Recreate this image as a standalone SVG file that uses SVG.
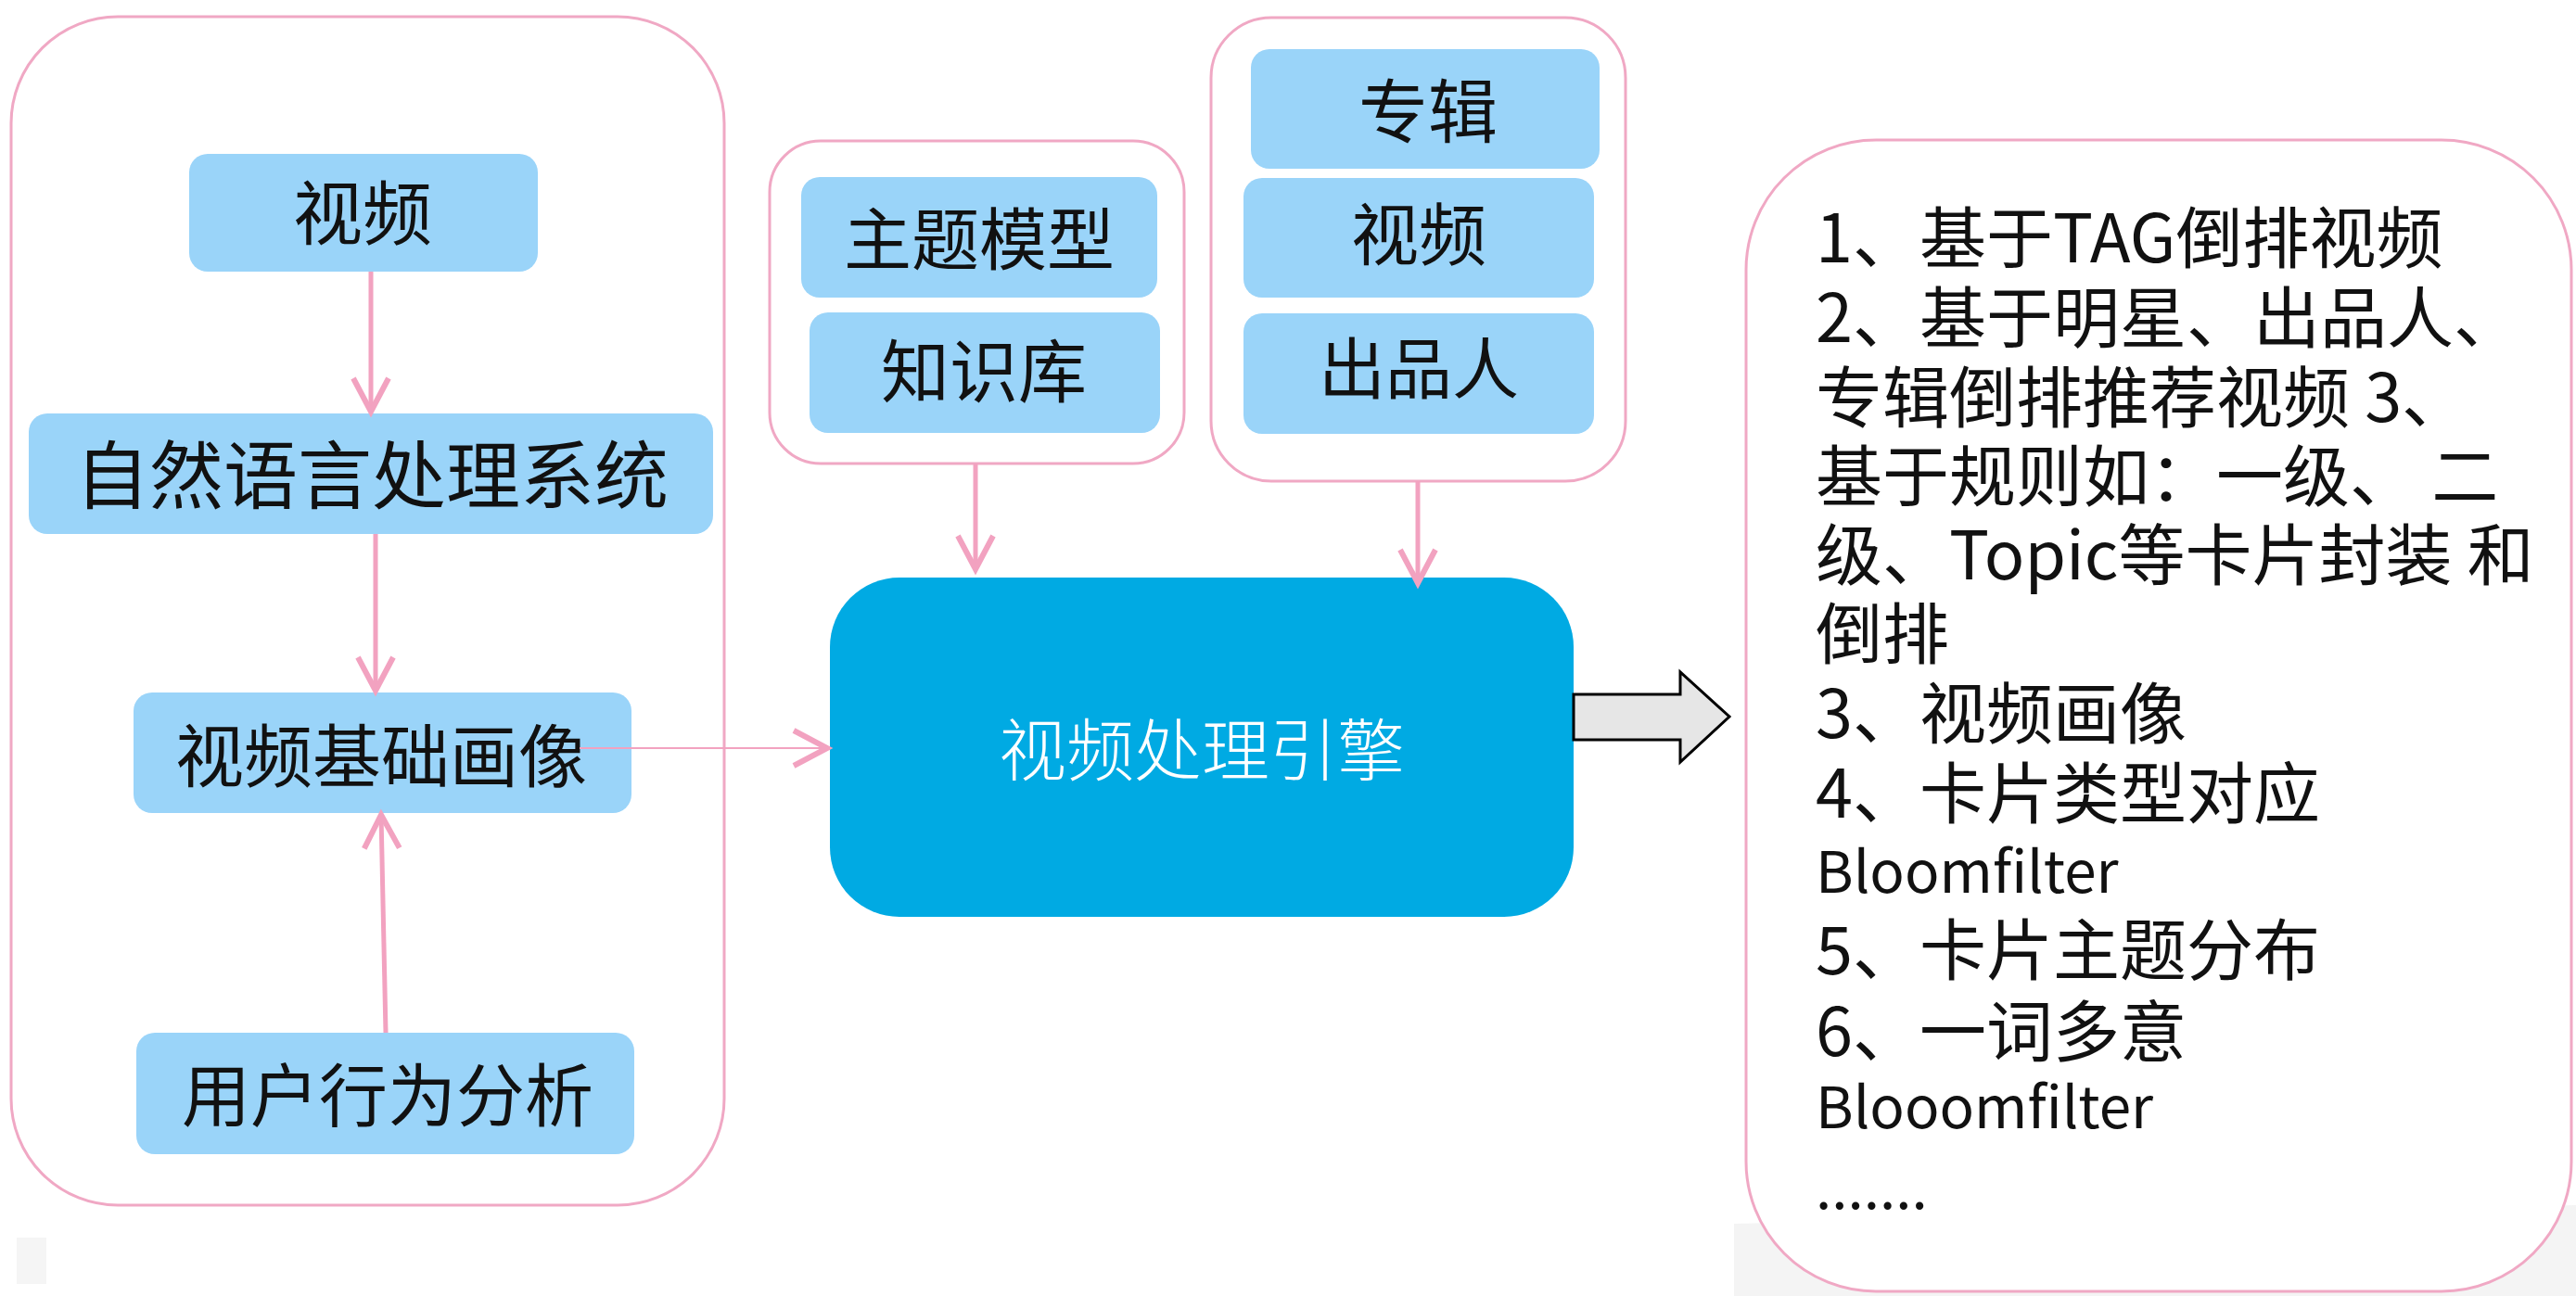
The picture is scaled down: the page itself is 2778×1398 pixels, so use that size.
<svg xmlns="http://www.w3.org/2000/svg" width="2778" height="1398" viewBox="0 0 2778 1398">
<style>
.bg{fill:#ffffff}
.cont{fill:#ffffff;stroke:#F0A8C4;stroke-width:3}
.box{fill:#9AD4F9}
.lbl{font-family:"Noto Sans CJK SC","Noto Sans",sans-serif;fill:#111111;text-anchor:middle}
.eng{fill:#00AAE3}
.engl{font-family:"Noto Sans CJK SC","Noto Sans",sans-serif;fill:#ffffff;text-anchor:middle;font-weight:300}
.con{fill:none;stroke:#F2A2C0;stroke-width:5}
.thin{fill:none;stroke:#F2A2C0;stroke-width:2}
.list{font-family:"Noto Sans CJK SC","Noto Sans",sans-serif;fill:#111111;font-size:72px}
.small{font-size:62px}
</style>
<defs>
<marker id="ah" markerUnits="userSpaceOnUse" markerWidth="48" markerHeight="48" refX="40" refY="22" orient="auto" viewBox="0 0 48 48">
<path d="M4,3 L40,22 L4,41" fill="none" stroke="#F2A2C0" stroke-width="6" stroke-linejoin="miter"/>
</marker>
</defs>
<rect class="bg" x="0" y="0" width="2778" height="1398"/>
<polygon points="1870,1320 2778,1300 2778,1398 1870,1398" fill="#f4f4f4"/>
<polygon points="18,1335 50,1335 50,1385 18,1385" fill="#f5f5f5"/>

<g id="left-container"><rect class="cont" x="12" y="18" width="769" height="1282" rx="115"/></g>
<g id="topic-container"><rect class="cont" x="830" y="152" width="447" height="348" rx="55"/></g>
<g id="meta-container"><rect class="cont" x="1306" y="19" width="447" height="500" rx="65"/></g>

<g id="node-video-left"><rect class="box" x="204" y="166" width="376" height="127" rx="20"/><text class="lbl" x="391" y="258" font-size="75">视频</text></g>
<g id="node-nlp"><rect class="box" x="31" y="446" width="738" height="130" rx="20"/><text class="lbl" x="401" y="542" font-size="80">自然语言处理系统</text></g>
<g id="node-profile"><rect class="box" x="144" y="747" width="537" height="130" rx="20"/><text class="lbl" x="411" y="843" font-size="74">视频基础画像</text></g>
<g id="node-user"><rect class="box" x="147" y="1114" width="537" height="131" rx="20"/><text class="lbl" x="418" y="1209" font-size="74">用户行为分析</text></g>

<g id="node-topic"><rect class="box" x="864" y="191" width="384" height="130" rx="20"/><text class="lbl" x="1056" y="285" font-size="73">主题模型</text></g>
<g id="node-kb"><rect class="box" x="873" y="337" width="378" height="130" rx="20"/><text class="lbl" x="1061" y="428" font-size="74">知识库</text></g>

<g id="node-album"><rect class="box" x="1349" y="53" width="376" height="129" rx="20"/><text class="lbl" x="1540" y="148" font-size="75">专辑</text></g>
<g id="node-video-right"><rect class="box" x="1341" y="192" width="378" height="129" rx="20"/><text class="lbl" x="1530" y="280" font-size="73">视频</text></g>
<g id="node-producer"><rect class="box" x="1341" y="338" width="378" height="130" rx="20"/><text class="lbl" x="1530" y="424" font-size="72">出品人</text></g>

<g id="node-engine"><rect class="eng" x="895" y="623" width="802" height="366" rx="75"/><text class="engl" x="1296" y="836" font-size="73">视频处理引擎</text></g>

<g id="connectors">
<line class="con" x1="400" y1="293" x2="400" y2="444" marker-end="url(#ah)"/>
<line class="con" x1="405" y1="576" x2="405" y2="745" marker-end="url(#ah)"/>
<line class="con" x1="416" y1="1114" x2="411" y2="879" marker-end="url(#ah)"/>
<line class="thin" x1="625" y1="807" x2="892" y2="807" marker-end="url(#ah)"/>
<line class="con" x1="1052" y1="500" x2="1052" y2="614" marker-end="url(#ah)"/>
<line class="con" x1="1529" y1="519" x2="1529" y2="629" marker-end="url(#ah)"/>
</g>

<g id="big-arrow"><polygon points="1697,749 1812,749 1812,725 1865,773 1812,822 1812,798 1697,798" fill="#e6e6e6" stroke="#000000" stroke-width="3" stroke-linejoin="miter"/></g>

<g id="node-notes">
<rect class="cont" x="1883" y="151" width="890" height="1242" rx="140"/>
<text class="list">
<tspan x="1958" y="283">1、基于TAG倒排视频</tspan>
<tspan x="1958" y="369">2、基于明星、出品人、</tspan>
<tspan x="1958" y="455">专辑倒排推荐视频 3、</tspan>
<tspan x="1958" y="540">基于规则如：一级、 二</tspan>
<tspan x="1958" y="625">级、Topic等卡片封装 和</tspan>
<tspan x="1958" y="710">倒排</tspan>
<tspan x="1958" y="796">3、视频画像</tspan>
<tspan x="1958" y="882">4、卡片类型对应</tspan>
<tspan x="1958" y="963" class="small">Bloomfilter</tspan>
<tspan x="1958" y="1051">5、卡片主题分布</tspan>
<tspan x="1958" y="1139">6、一词多意</tspan>
<tspan x="1958" y="1217" class="small">Blooomfilter</tspan>
<tspan x="1958" y="1304" class="small">.......</tspan>
</text>
</g>
</svg>
